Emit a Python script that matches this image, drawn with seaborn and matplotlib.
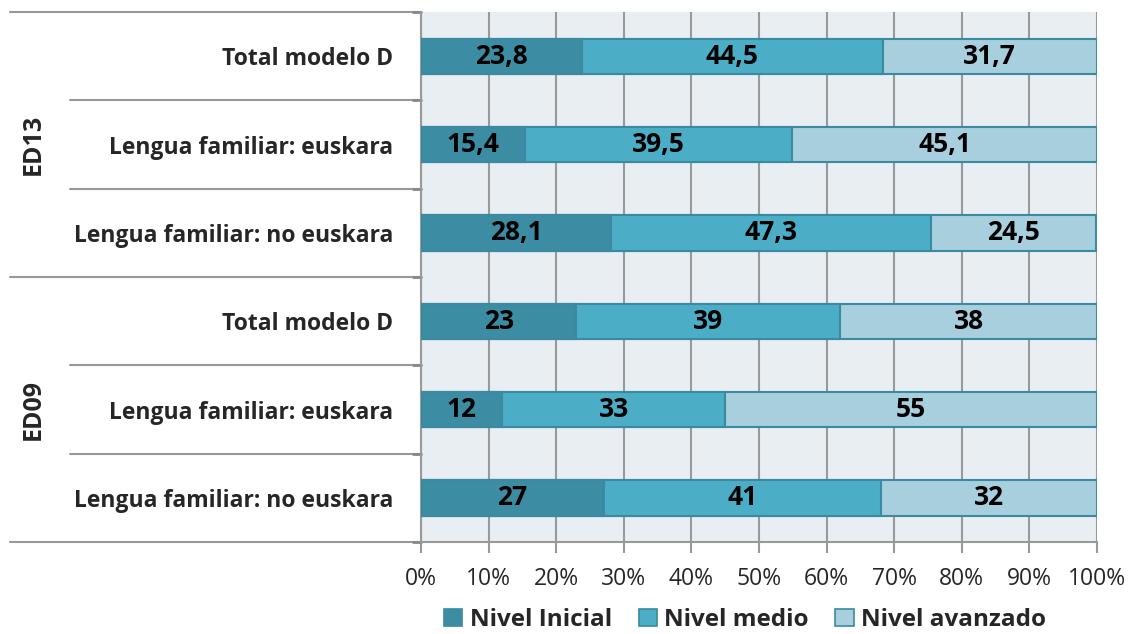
import numpy as np
import pandas as pd
import matplotlib
matplotlib.use("Agg")
import matplotlib.pyplot as plt
import matplotlib.transforms as mtransforms
from matplotlib.lines import Line2D
from matplotlib.patches import Patch
import seaborn as sns

# ---- data ----
row_labels = ["Total modelo D", "Lengua familiar: euskara", "Lengua familiar: no euskara",
              "Total modelo D", "Lengua familiar: euskara", "Lengua familiar: no euskara"]
groups = ["ED13", "ED13", "ED13", "ED09", "ED09", "ED09"]
group_names = ["ED13", "ED09"]
series_names = ["Nivel Inicial", "Nivel medio", "Nivel avanzado"]
inicial = [23.8, 15.4, 28.1, 23, 12, 27]
medio = [44.5, 39.5, 47.3, 39, 33, 41]
avanzado = [31.7, 45.1, 24.5, 38, 55, 32]
value_labels = [["23,8", "15,4", "28,1", "23", "12", "27"],
                ["44,5", "39,5", "47,3", "39", "33", "41"],
                ["31,7", "45,1", "24,5", "38", "55", "32"]]
xticks = [0, 10, 20, 30, 40, 50, 60, 70, 80, 90, 100]

colors = ["#3C8CA3", "#4BADC6", "#A8CFDE"]
edge = "#3A8AA1"

sns.set_theme(style="white")
plt.rcParams['font.family'] = ['Open Sans', 'DejaVu Sans']

keys = [f"{g}|{r}" for g, r in zip(groups, row_labels)]
df = pd.DataFrame({"key": keys, "Nivel Inicial": inicial, "Nivel medio": medio,
                   "Nivel avanzado": avanzado})
cum = df[series_names].cumsum(axis=1)

fig = plt.figure(figsize=(11.29, 6.34), dpi=100)
ax = fig.add_axes([421/1129, 1-542/634, (1097-421)/1129, (542-12)/634])
ax.set_facecolor("#E8EEF2")

for i in reversed(range(3)):
    sns.barplot(data=pd.DataFrame({"key": keys, "v": cum[series_names[i]]}),
                x="v", y="key", orient="h", order=keys, color=colors[i],
                width=0.4, saturation=1, edgecolor=edge, linewidth=1.5, ax=ax, zorder=3)

# value labels
lefts = np.zeros(len(keys))
for i, s in enumerate(series_names):
    vals = df[s].values
    for j in range(len(keys)):
        ax.text(lefts[j] + vals[j]/2, j, value_labels[i][j], ha="center", va="center",
                fontsize=19, fontweight="bold", color="black", zorder=5)
    lefts += vals

ax.set_xlim(0, 100)
ax.set_ylim(5.5, -0.5)
ax.set_xticks(xticks)
ax.set_xticklabels([f"{t}%" for t in xticks], fontsize=16.5)
ax.set_yticks(range(len(keys)))
ax.set_yticklabels(row_labels, fontsize=16.5, fontweight="bold")
ax.set_xlabel("")
ax.set_ylabel("")
ax.tick_params(axis="y", length=0, pad=20)
ax.tick_params(axis="x", length=8, width=1.5, color="#999999", pad=10, direction="out", bottom=True)
ax.grid(axis="x", color="#999999", linewidth=1.5, zorder=0)
ax.set_axisbelow(True)
for sp in ["top", "right"]:
    ax.spines[sp].set_visible(False)
for sp in ["left", "bottom"]:
    ax.spines[sp].set_color("#999999")
    ax.spines[sp].set_linewidth(1.5)

# separator lines and group labels
trans = mtransforms.blended_transform_factory(fig.transFigure, ax.transData)
ax_tr = mtransforms.blended_transform_factory(ax.transAxes, ax.transData)
for yb in [-0.5, 2.5, 5.5]:
    ax.add_line(Line2D([10/1129, 421/1129], [yb, yb], transform=trans, color="#999999",
                       lw=1.5, clip_on=False))
for yb in [0.5, 1.5, 3.5, 4.5]:
    ax.add_line(Line2D([70/1129, 421/1129], [yb, yb], transform=trans, color="#999999",
                       lw=1.5, clip_on=False))
for yb in [-0.5, 0.5, 1.5, 2.5, 3.5, 4.5, 5.5]:
    ax.add_line(Line2D([-0.012, 0], [yb, yb], transform=ax_tr, color="#888888",
                       lw=2, clip_on=False))
for gi, g in enumerate(group_names):
    ax.text(33/1129, gi*3 + 1, g, transform=trans, rotation=90, ha="center", va="center",
            fontsize=18, fontweight="bold")

handles = [Patch(facecolor=c, edgecolor=edge, linewidth=1.2) for c in colors]
fig.legend(handles, series_names, loc="center", bbox_to_anchor=(745/1129, 1-620/634),
           ncol=3, frameon=False, prop={"size": 17.5, "weight": "bold"},
           handlelength=0.75, handleheight=0.75, handletextpad=0.3, columnspacing=1.1,
           borderpad=0.1)

fig.savefig("out.png", dpi=100)
